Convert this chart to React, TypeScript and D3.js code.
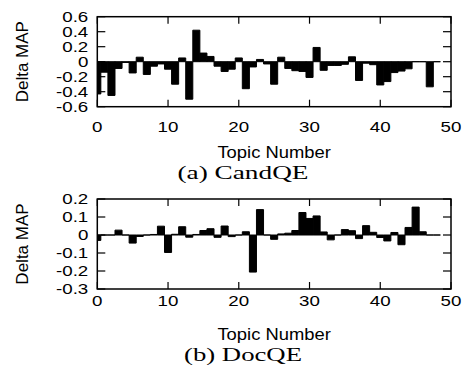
import React from "react";
import * as d3 from "d3";

// topic-wise delta MAP (topics 0..48)
const topics = d3.range(0, 49);
const candQE = [
  -0.43, -0.14, -0.45, -0.09, -0.01, -0.15, 0.06, -0.17, -0.06, -0.03,
  -0.1, -0.3, 0.05, -0.5, 0.42, 0.115, 0.07, -0.06, -0.13, -0.1,
  0.05, -0.36, -0.07, 0.03, -0.03, -0.3, 0.06, -0.09, -0.12, -0.13,
  -0.21, 0.19, -0.115, -0.05, -0.05, -0.035, 0.065, -0.25, -0.02, -0.04,
  -0.31, -0.265, -0.145, -0.125, -0.095, 0, 0, -0.335, 0,
];
const docQE = [
  -0.03, 0, 0, 0.027, 0, -0.045, -0.008, 0, 0.003, 0.049,
  -0.097, 0.004, 0.046, -0.012, 0.003, 0.025, 0.035, -0.013, 0.05, -0.009,
  0, 0.018, -0.206, 0.141, 0, -0.024, 0.006, 0.01, 0.025, 0.125,
  0.092, 0.106, 0.017, -0.027, 0, 0.03, 0.024, -0.02, 0.052, 0.015,
  -0.014, -0.033, 0.014, -0.054, 0.042, 0.155, 0.018, 0, 0,
];
const xTicks = [0, 10, 20, 30, 40, 50];
const yTicksA = [0.6, 0.4, 0.2, 0, -0.2, -0.4, -0.6];
const yTicksB = [0.2, 0.1, 0, -0.1, -0.2, -0.3];

const SX = 1.25; // the figure is stretched sideways
const SANS = "Liberation Sans, Arial, sans-serif";

interface PanelProps {
  id: string;
  top: number;
  values: number[];
  yDomain: [number, number];
  yTicks: number[];
  caption: string;
  captionLen: number;
  tickGap: number;
}

const left = 97.3;
const right = 451;
const plotH = 90;

const Panel: React.FC<PanelProps> = ({ id, top, values, yDomain, yTicks, caption, captionLen, tickGap }) => {
  const x = d3.scaleLinear().domain([0, 50]).range([left, right]);
  const y = d3.scaleLinear().domain(yDomain).range([top + plotH, top]);
  const bottom = top + plotH;
  const fmt = (v: number) => (v === 0 ? "0" : String(v));

  return (
    <g>
      <defs>
        <clipPath id={id}>
          <rect x={left} y={top} width={right - left} height={plotH} />
        </clipPath>
      </defs>
      <g clipPath={`url(#${id})`}>
        {values.map((v, i) => {
          const x0 = x(topics[i] - 0.5);
          const x1 = x(topics[i] + 0.5);
          const y0 = y(0);
          const y1 = y(v);
          return (
            <path
              key={i}
              d={`M${x0},${y0}H${x1}V${y1}H${x0}Z`}
              fill="#000"
              stroke="#000"
              strokeWidth={1}
            />
          );
        })}
      </g>
      {xTicks.map((t) => (
        <g key={"x" + t}>
          <line x1={x(t)} x2={x(t)} y1={bottom} y2={bottom - 7} stroke="#000" strokeWidth={1.2} />
          <line x1={x(t)} x2={x(t)} y1={top} y2={top + 7} stroke="#000" strokeWidth={1.2} />
          <text
            transform={`translate(${x(t)},${bottom + tickGap}) scale(${SX},1)`}
            textAnchor="middle"
            fontSize={15}
            fontFamily={SANS}
          >
            {t}
          </text>
        </g>
      ))}
      {yTicks.map((t) => (
        <g key={"y" + t}>
          <line x1={left} x2={left + 8} y1={y(t)} y2={y(t)} stroke="#000" strokeWidth={1.2} />
          <line x1={right} x2={right - 8} y1={y(t)} y2={y(t)} stroke="#000" strokeWidth={1.2} />
          <text
            transform={`translate(${left - 9},${y(t) + 5.4}) scale(${SX},1)`}
            textAnchor="end"
            fontSize={15}
            fontFamily={SANS}
          >
            {fmt(t)}
          </text>
        </g>
      ))}
      <rect x={left} y={top} width={right - left} height={plotH} fill="none" stroke="#000" strokeWidth={1.5} />
      <text
        transform={`translate(28,${top + plotH / 2}) rotate(-90)`}
        textAnchor="middle"
        fontSize={17}
        fontFamily={SANS}
      >
        Delta MAP
      </text>
      <text
        transform={`translate(${(left + right) / 2},${bottom + 51}) scale(1.15,1)`}
        textAnchor="middle"
        fontSize={16}
        fontFamily={SANS}
      >
        Topic Number
      </text>
      <text
        x={243 - captionLen / 2}
        y={bottom + 72}
        textLength={captionLen}
        lengthAdjust="spacingAndGlyphs"
        fontSize={19}
        fontFamily="Liberation Serif, Times New Roman, serif"
      >
        {caption}
      </text>
    </g>
  );
};

export default function App() {
  return (
    <svg
      width={464}
      height={368}
      style={{ position: "absolute", left: 0, top: 0, background: "#fff" }}
    >
      <Panel id="clipA" top={16.7} values={candQE} yDomain={[-0.6, 0.6]} yTicks={yTicksA} caption="(a) CandQE" captionLen={131} tickGap={25} />
      <Panel id="clipB" top={199} values={docQE} yDomain={[-0.3, 0.2]} yTicks={yTicksB} caption="(b) DocQE" captionLen={118} tickGap={17} />
    </svg>
  );
}
